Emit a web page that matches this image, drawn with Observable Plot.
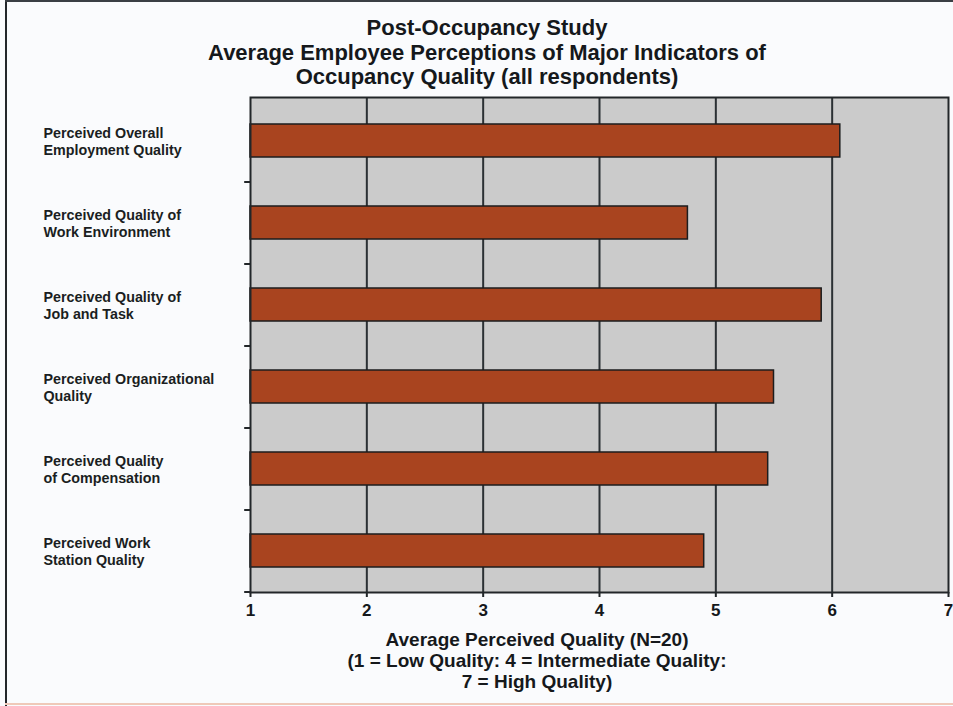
<!DOCTYPE html>
<html>
<head>
<meta charset="utf-8">
<script src="https://cdn.jsdelivr.net/npm/d3@7"></script>
<script src="https://cdn.jsdelivr.net/npm/@observablehq/plot@0.6"></script>
<style>
  html, body { margin: 0; padding: 0; background: #fafbfd; }
  #wrap { position: relative; width: 953px; height: 706px; overflow: hidden; background: #fafbfd;
          font-family: "Liberation Sans", Arial, Helvetica, sans-serif; }
  #chart { position: absolute; left: 0; top: 0; }
  .title { position: absolute; left: 487px; top: 16px; transform: translateX(-50%); text-align: center;
           white-space: nowrap; font-weight: bold; font-size: 22px; line-height: 24.5px; color: #15181b; }
  .xlabel { position: absolute; left: 537px; top: 629px; transform: translateX(-50%); text-align: center;
            white-space: nowrap; font-weight: bold; font-size: 19px; line-height: 21px; color: #15181b; }
  .bl { position: absolute; left: 5px; top: 0; width: 2px; height: 706px; background: #23272b; }
  .bt { position: absolute; left: 5px; top: 0; width: 948px; height: 2px; background: #3a3f44; }
  .bb { position: absolute; left: 5px; top: 703px; width: 948px; height: 2px; background: #efc9b9; }
</style>
</head>
<body>
<div id="wrap">
  <div id="chart"></div>
  <div class="bl"></div><div class="bt"></div><div class="bb"></div>
  <div class="title" id="title"></div>
  <div class="xlabel" id="xlabel"></div>
</div>
<script>
const titleLines = [
  "Post-Occupancy Study",
  "Average Employee Perceptions of Major Indicators of",
  "Occupancy Quality (all respondents)"
];
const xLabelLines = [
  "Average Perceived Quality (N=20)",
  "(1 = Low Quality: 4 = Intermediate Quality:",
  "7 = High Quality)"
];
const categories = [
  "Perceived Overall\nEmployment Quality",
  "Perceived Quality of\nWork Environment",
  "Perceived Quality of\nJob and Task",
  "Perceived Organizational\nQuality",
  "Perceived Quality\nof Compensation",
  "Perceived Work\nStation Quality"
];
const values = [6.07, 4.76, 5.91, 5.50, 5.45, 4.90];
const xDomain = [1, 7];
const xTicks = [1, 2, 3, 4, 5, 6, 7];
const gridValues = [2, 3, 4, 5, 6];

const data = categories.map((c, i) => ({category: c, value: values[i]}));

document.getElementById("title").innerHTML = titleLines.join("<br>");
document.getElementById("xlabel").innerHTML = xLabelLines.join("<br>");

const yRange = [99, 591];
const step = (yRange[1] - yRange[0]) / categories.length;

const chart = Plot.plot({
  width: 953,
  height: 706,
  marginLeft: 250,
  marginRight: 5,
  marginTop: 97,
  marginBottom: 114,
  style: {background: "transparent", fontFamily: "'Liberation Sans', Arial, sans-serif", color: "#15181b", overflow: "visible"},
  x: {domain: xDomain},
  y: {domain: categories, range: yRange, paddingInner: 0.6, paddingOuter: 0.3, axis: null},
  marks: [
    Plot.frame({fill: "#cbcbcb", stroke: "none"}),
    Plot.ruleX(gridValues, {stroke: "#2b3034", strokeWidth: 2}),
    Plot.barX(data, {x1: () => xDomain[0], x2: "value", y: "category", fill: "#a9441f", stroke: "#1c1d1e", strokeWidth: 1.5}),
    Plot.frame({stroke: "#222629", strokeWidth: 2}),
    Plot.ruleY(categories, {y: d => d, dy: step / 2, x1: () => xDomain[0] - 0.05, x2: () => xDomain[0], stroke: "#222629", strokeWidth: 2}),
    Plot.axisX({ticks: xTicks, tickSize: 5, tickPadding: 6, fontSize: 17, fontWeight: "bold", tickFormat: d => String(d), stroke: "#222629", strokeWidth: 2, label: null}),
    Plot.text(data, {y: "category", text: "category", frameAnchor: "left", textAnchor: "start", dx: -207, fontSize: 14.3, fontWeight: "bold", lineHeight: 1.2, fill: "#1a1e22"})
  ]
});
document.getElementById("chart").appendChild(chart);
</script>
</body>
</html>
